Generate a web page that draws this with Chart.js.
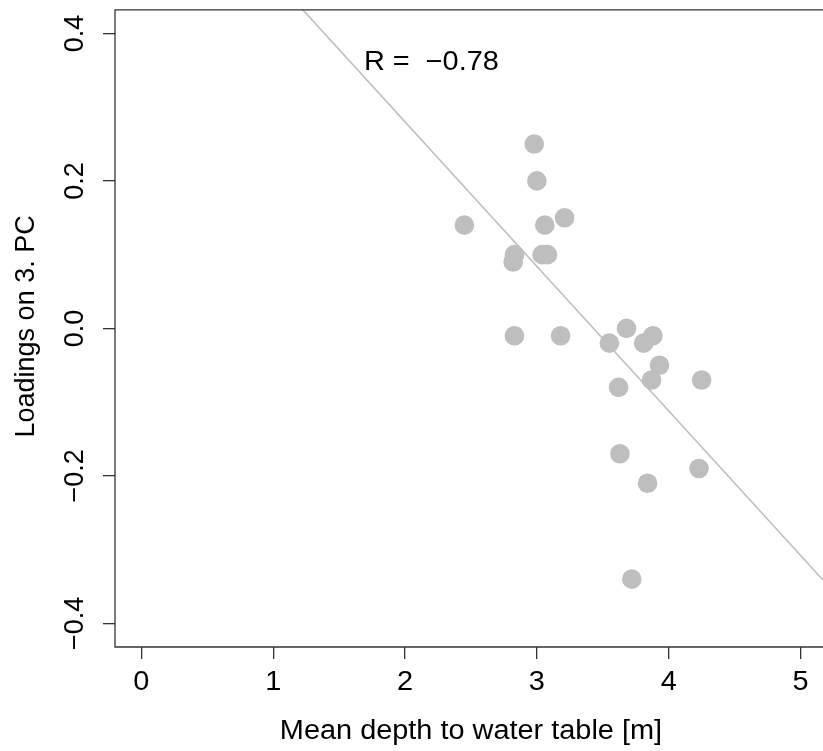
<!DOCTYPE html>
<html>
<head>
<meta charset="utf-8">
<title>Loadings vs depth</title>
<script src="https://cdn.jsdelivr.net/npm/chart.js@4.4.0/dist/chart.umd.min.js"></script>
<style>
html, body { margin: 0; padding: 0; background: #fff; overflow: hidden; }
/* the original plot box runs past the right edge of the picture,
   so the canvas is a little wider than the window and gets cut off */
#clip { width: 823px; height: 751px; overflow: hidden; }
#wrap { position: relative; width: 833px; height: 751px; }
#wrap canvas { display: block; }
</style>
</head>
<body>
<div id="clip"><div id="wrap"><canvas id="scatter-depth"></canvas></div></div>
<script>
// values
var depth = [2.45, 2.83, 2.82, 2.83, 2.98, 3.00, 3.06, 3.04, 3.08, 3.21, 3.18,
             3.55, 3.68, 3.62, 3.81, 3.88, 3.93, 3.87, 4.25, 3.63, 4.23, 3.84, 3.72];
var loadings = [0.14, 0.10, 0.09, -0.01, 0.25, 0.20, 0.14, 0.10, 0.10, 0.15, -0.01,
                -0.02, 0.00, -0.08, -0.02, -0.01, -0.05, -0.07, -0.07, -0.17, -0.19, -0.21, -0.34];

// fitted line end points
var fitDepth = [0, 5.2];
var fitLoadings = [0.672, -0.347];

var xTicks = [0, 1, 2, 3, 4, 5];
var xTickLabels = ["0", "1", "2", "3", "4", "5"];
var yTicks = [-0.4, -0.2, 0, 0.2, 0.4];
var yTickLabels = ["\u22120.4", "\u22120.2", "0.0", "0.2", "0.4"];

var xTitle = "Mean depth to water table [m]";
var yTitle = "Loadings on 3. PC";
var corrLabel = "R =  \u22120.78";

var FONT = "27px 'Liberation Sans', Arial, sans-serif";
var STRETCH = 1.07;   // the original text is a bit wider than Arial

var points = depth.map(function (d, i) { return { x: d, y: loadings[i] }; });
var fitLine = fitDepth.map(function (d, i) { return { x: d, y: fitLoadings[i] }; });

function drawText(ctx, text, x, y, turned) {
	ctx.save();
	ctx.translate(x, y);
	if (turned) {
		ctx.rotate(-Math.PI / 2);
	} else {
		ctx.scale(STRETCH, 1);
	}
	ctx.fillText(text, 0, 0);
	ctx.restore();
}

var decorations = {
	id: "decorations",
	afterDatasetsDraw: function (chart) {
		var ctx = chart.ctx;
		var area = chart.chartArea;
		var xs = chart.scales.x;
		var ys = chart.scales.y;

		ctx.save();

		// plot frame, open on the right where the picture is cut
		ctx.strokeStyle = "#333";
		ctx.lineWidth = 1.3;
		ctx.beginPath();
		ctx.moveTo(area.right + 2, area.top);
		ctx.lineTo(area.left, area.top);
		ctx.lineTo(area.left, area.bottom);
		ctx.lineTo(area.right + 2, area.bottom);
		ctx.stroke();

		ctx.fillStyle = "#000";
		ctx.textAlign = "center";
		ctx.textBaseline = "middle";
		ctx.font = FONT;

		xTicks.forEach(function (v, i) {
			drawText(ctx, xTickLabels[i], xs.getPixelForValue(v), 683, false);
		});
		yTicks.forEach(function (v, i) {
			drawText(ctx, yTickLabels[i], 76, ys.getPixelForValue(v), true);
		});

		// axis titles, centred on the full plot region like R
		drawText(ctx, xTitle, xs.getPixelForValue(2.5), 732, false);
		drawText(ctx, yTitle, 27, (area.top + area.bottom) / 2 - 2, true);

		// correlation note
		drawText(ctx, corrLabel, xs.getPixelForValue(2.2), ys.getPixelForValue(0.36), false);

		ctx.restore();
	}
};

var ctx1 = document.getElementById("scatter-depth");

var chart1 = new Chart(ctx1, {
	type : "scatter",
	data : {
		datasets : [
			{
				label : "fit",
				type : "line",
				data : fitLine,
				borderColor : "#bebebe",
				borderWidth : 1.6,
				pointRadius : 0,
				fill : false,
				order : 0
			},
			{
				label : "sites",
				data : points,
				backgroundColor : "#bebebe",
				borderWidth : 0,
				pointRadius : 9.8,
				order : 1
			}
		]
	},
	options : {
		responsive : true,
		maintainAspectRatio : false,
		animation : false,
		events : [],
		layout : { padding : { top : 9, right : 0, bottom : 0, left : 0 } },
		plugins : {
			legend : { display : false },
			tooltip : { enabled : false }
		},
		scales : {
			x : {
				type : "linear",
				min : -0.2,
				max : 5.172,
				afterBuildTicks : function (s) {
					s.ticks = xTicks.map(function (v) { return { value : v }; });
				},
				afterFit : function (s) {
					s.height = 104;
					s.paddingLeft = 0;
					s.paddingRight = 0;
				},
				border : { display : false },
				grid : {
					drawOnChartArea : false,
					drawTicks : true,
					tickLength : 12,
					color : "#333",
					lineWidth : 1.3
				},
				ticks : { display : false }
			},
			y : {
				type : "linear",
				min : -0.432,
				max : 0.432,
				afterBuildTicks : function (s) {
					s.ticks = yTicks.map(function (v) { return { value : v }; });
				},
				afterFit : function (s) {
					s.width = 115;
					s.paddingTop = 0;
					s.paddingBottom = 0;
				},
				border : { display : false },
				grid : {
					drawOnChartArea : false,
					drawTicks : true,
					tickLength : 12,
					color : "#333",
					lineWidth : 1.3
				},
				ticks : { display : false }
			}
		}
	},
	plugins : [decorations]
});
</script>
</body>
</html>
